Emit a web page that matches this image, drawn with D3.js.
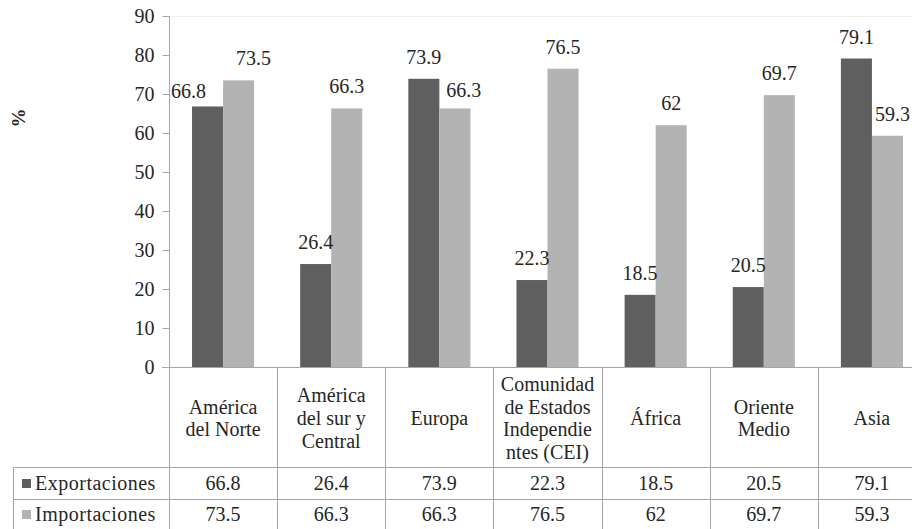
<!DOCTYPE html>
<html>
<head>
<meta charset="utf-8">
<script src="https://cdn.jsdelivr.net/npm/d3@7"></script>
<style>
  html, body { margin: 0; padding: 0; background: #fff; overflow: hidden; }
  svg { display: block; }
</style>
</head>
<body>
<svg id="chart" width="912" height="529"></svg>
<script>
// Regional shares (%) of exports and imports
const categories = [
  ["América", "del Norte"],
  ["América", "del sur y", "Central"],
  ["Europa"],
  ["Comunidad", "de Estados", "Independie", "ntes (CEI)"],
  ["África"],
  ["Oriente", "Medio"],
  ["Asia"]
];
const seriesNames = ["Exportaciones", "Importaciones"];
const exportaciones = [66.8, 26.4, 73.9, 22.3, 18.5, 20.5, 79.1];
const importaciones = [73.5, 66.3, 66.3, 76.5, 62, 69.7, 59.3];
const yTicks = [0, 10, 20, 30, 40, 50, 60, 70, 80, 90];

const seriesValues = [exportaciones, importaciones];
const seriesColors = ["#5f5f5f", "#b3b3b3"];
const FONT = "Liberation Serif";
const INK = "#262626";

// hand-placed offsets for labels that would collide with neighbours
const labelShift = {
  "0-0": [-19, 7],
  "1-0": [15, 0],
  "1-2": [9, 4],
  "1-6": [5, 0]
};

const svg = d3.select("#chart");
const keys = categories.map((c, i) => i);

const x0 = d3.scaleBand().domain(keys).range([169, 926]).paddingInner(0).paddingOuter(0);
const x1 = d3.scaleBand().domain([0, 1]).range([0, x0.bandwidth()]).paddingInner(0).paddingOuter(0.742);
const y = d3.scaleLinear().domain([0, 90]).range([367, 16]);

const gridColor = "#a6a6a6";

// every label shares the same face, size and ink
function label(sel) {
  return sel.append("text")
    .attr("font-family", FONT)
    .attr("font-size", 20)
    .attr("fill", INK);
}

// faint plot-area top edge
svg.append("line")
  .attr("x1", 169).attr("x2", 926)
  .attr("y1", y(90) + 0.5).attr("y2", y(90) + 0.5)
  .attr("stroke", "#f0f0f0");

// y axis
const yAxis = d3.axisLeft(y).tickValues(yTicks).tickSize(7).tickPadding(8).tickFormat(d3.format("d"));
const gy = svg.append("g").attr("transform", "translate(169.5,0)").call(yAxis)
  .attr("font-family", FONT).attr("font-size", 20);
gy.select(".domain").remove();
gy.selectAll(".tick line").attr("stroke", gridColor);
gy.selectAll(".tick text")
  .attr("font-family", FONT)
  .attr("font-size", 20)
  .attr("fill", INK);

label(svg)
  .attr("transform", "translate(18,118) rotate(-90)")
  .attr("text-anchor", "middle")
  .attr("dominant-baseline", "central")
  .attr("font-size", 19)
  .attr("font-weight", "bold")
  .text("%");

// bars
const groups = svg.append("g").selectAll("g")
  .data(keys).join("g")
  .attr("transform", d => `translate(${x0(d)},0)`);

groups.selectAll("rect")
  .data(ci => seriesValues.map((vals, si) => ({ si, ci, v: vals[ci] })))
  .join("rect")
  .attr("x", d => x1(d.si))
  .attr("width", x1.bandwidth())
  .attr("y", d => y(d.v))
  .attr("height", d => y(0) - y(d.v))
  .attr("fill", d => seriesColors[d.si]);

// value labels
groups.each(function (ci) {
  const g = d3.select(this);
  seriesValues.forEach((vals, si) => {
    const shift = labelShift[si + "-" + ci] || [0, 0];
    label(g)
      .attr("text-anchor", "middle")
      .attr("x", x1(si) + x1.bandwidth() / 2 + shift[0])
      .attr("y", y(vals[ci]) - 15 + shift[1])
      .text(d3.format("")(vals[ci]));
  });
});

// data table under the axis
const rowBottom = 531;
const tbl = svg.append("g").attr("stroke", gridColor).attr("shape-rendering", "crispEdges");

// baseline / table top
tbl.append("line").attr("x1", 162).attr("x2", 926).attr("y1", 367.5).attr("y2", 367.5);
// row separators
[467, 499, rowBottom].forEach(yy => {
  tbl.append("line").attr("x1", 13).attr("x2", 926).attr("y1", yy + 0.5).attr("y2", yy + 0.5);
});
// column separators, including the y axis line
tbl.append("line").attr("x1", 169.5).attr("x2", 169.5).attr("y1", 16).attr("y2", rowBottom);
keys.forEach(k => {
  const xx = x0(k) + x0.bandwidth();
  tbl.append("line").attr("x1", xx + 0.5).attr("x2", xx + 0.5).attr("y1", 367).attr("y2", rowBottom);
});
tbl.append("line").attr("x1", 13.5).attr("x2", 13.5).attr("y1", 467).attr("y2", rowBottom);

// category names
const lineH = 22.7;
keys.forEach(k => {
  const lines = categories[k];
  const cx = x0(k) + x0.bandwidth() / 2;
  const cy = 418;
  const t = label(svg).attr("text-anchor", "middle");
  lines.forEach((ln, i) => {
    t.append("tspan")
      .attr("x", cx)
      .attr("y", cy + (i - (lines.length - 1) / 2) * lineH)
      .attr("dy", "0.35em")
      .text(ln);
  });
});

// legend keys and value rows
const rowMid = [483, 514];
seriesNames.forEach((name, si) => {
  svg.append("rect")
    .attr("x", 22).attr("y", rowMid[si] - 4)
    .attr("width", 9).attr("height", 9)
    .attr("fill", seriesColors[si]);
  label(svg)
    .attr("x", 35).attr("y", rowMid[si])
    .attr("dy", "0.35em")
    .attr("letter-spacing", 0.5)
    .text(name);
  keys.forEach(k => {
    label(svg)
      .attr("x", x0(k) + x0.bandwidth() / 2)
      .attr("y", rowMid[si])
      .attr("dy", "0.35em")
      .attr("text-anchor", "middle")
      .text(d3.format("")(seriesValues[si][k]));
  });
});
</script>
</body>
</html>
